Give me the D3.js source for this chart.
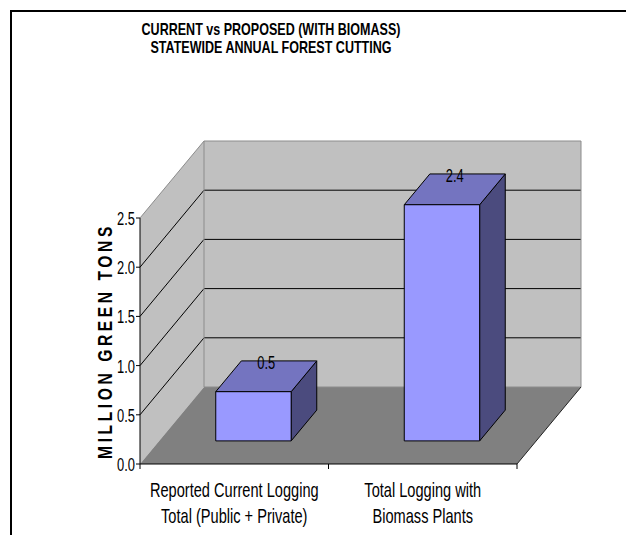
<!DOCTYPE html>
<html>
<head>
<meta charset="utf-8">
<script src="https://cdn.jsdelivr.net/npm/d3@7"></script>
<style>
  html, body { margin: 0; padding: 0; background: #fff; }
  svg { display: block; }
  text { font-family: "Liberation Sans", Arial, sans-serif; fill: #000; }
</style>
</head>
<body>
<svg id="chart" width="626" height="535"></svg>
<script>
// Statewide annual forest cutting, million green tons
const categoryLines = [
  ["Reported Current Logging", "Total (Public + Private)"],
  ["Total Logging with", "Biomass Plants"]
];
const categoryKeys = ["current", "biomass"];
const values = [0.5, 2.4];
const yTicks = [0, 0.5, 1.0, 1.5, 2.0, 2.5];
const titleLines = ["CURRENT vs PROPOSED (WITH BIOMASS)", "STATEWIDE ANNUAL FOREST CUTTING"];
const yTitle = "MILLION GREEN TONS";

const svg = d3.select("#chart");

// plot frame (front plane) and 3-D depth offset
const x0 = 140, x1 = 517, yBase = 464, yTop = 218;
const depth = { dx: 64, dy: -77 };
const barDepth = { from: 0.3, to: 0.7 };

const y = d3.scaleLinear().domain([0, 2.5]).range([yBase, yTop]);
const x = d3.scaleBand().domain(categoryKeys).range([x0, x1]).paddingInner(0).paddingOuter(0);
const barW = x.bandwidth() / 2.5;   // 150% gap width

const colors = {
  wall: "#c0c0c0", floor: "#808080", edge: "#8c8c8c",
  front: "#9999ff", top: "#7474c0", side: "#4b4b7e"
};

// outer chart border
svg.append("rect")
  .attr("x", 11).attr("y", 11).attr("width", 800).attr("height", 800)
  .attr("fill", "none").attr("stroke", "#000").attr("stroke-width", 2);

const pt = (px, py, f) => [px + depth.dx * f, py + depth.dy * f];
const poly = pts => "M" + pts.map(p => p.join(",")).join("L") + "Z";

const g = svg.append("g");

// side wall (left)
g.append("path")
  .attr("d", poly([[x0, y(0)], pt(x0, y(0), 1), pt(x0, y(2.5), 1), [x0, y(2.5)]]))
  .attr("fill", colors.wall).attr("stroke", "none");
// back wall
g.append("path")
  .attr("d", poly([pt(x0, y(0), 1), pt(x1, y(0), 1), pt(x1, y(2.5), 1), pt(x0, y(2.5), 1)]))
  .attr("fill", colors.wall).attr("stroke", "none");
// floor
g.append("path")
  .attr("d", poly([[x0, y(0)], [x1, y(0)], pt(x1, y(0), 1), pt(x0, y(0), 1)]))
  .attr("fill", colors.floor).attr("stroke", "none");

// gridlines on side and back walls
const inner = yTicks.filter(t => t > 0 && t < 2.5);
g.selectAll(".grid-side").data(inner).join("line")
  .attr("x1", x0).attr("y1", d => y(d))
  .attr("x2", d => pt(x0, y(d), 1)[0]).attr("y2", d => pt(x0, y(d), 1)[1])
  .attr("stroke", "#000").attr("stroke-width", 1);
g.selectAll(".grid-back").data(inner).join("line")
  .attr("x1", d => pt(x0, y(d), 1)[0]).attr("y1", d => pt(x0, y(d), 1)[1])
  .attr("x2", d => pt(x1, y(d), 1)[0]).attr("y2", d => pt(x1, y(d), 1)[1])
  .attr("stroke", "#000").attr("stroke-width", 1);

// wall outlines
const wl = [
  [[x0, y(2.5)], pt(x0, y(2.5), 1)],
  [pt(x0, y(2.5), 1), pt(x1, y(2.5), 1)],
  [pt(x1, y(2.5), 1), pt(x1, y(0), 1)],
  [pt(x0, y(2.5), 1), pt(x0, y(0), 1)],
  [pt(x0, y(0), 1), pt(x1, y(0), 1)]
];
g.selectAll(".wall-edge").data(wl).join("line")
  .attr("x1", d => d[0][0]).attr("y1", d => d[0][1])
  .attr("x2", d => d[1][0]).attr("y2", d => d[1][1])
  .attr("stroke", colors.edge).attr("stroke-width", 1);
// floor right edge
g.append("line")
  .attr("x1", x1).attr("y1", y(0))
  .attr("x2", pt(x1, y(0), 1)[0]).attr("y2", pt(x1, y(0), 1)[1])
  .attr("stroke", "#222").attr("stroke-width", 1);

// 3-D bars
const bars = categoryKeys.map((k, i) => {
  const cx = x(k) + x.bandwidth() / 2;
  const f0 = barDepth.from, f1 = barDepth.to;
  const l = cx - barW / 2, r = cx + barW / 2;
  const [fl, fb] = pt(l, y(0), f0);
  const [fr, ft] = pt(r, y(values[i]), f0);
  const [bl, bt] = pt(l, y(values[i]), f1);
  const [br, bb] = pt(r, y(0), f1);
  return { k, v: values[i], fl, fr, fb, ft, bl, bt, br, bb };
});
const bg = svg.append("g").attr("stroke", "#000").attr("stroke-width", 1).attr("stroke-linejoin", "round");
bars.forEach(b => {
  const dxBack = b.br - b.fr;
  bg.append("path")
    .attr("d", poly([[b.fr, b.fb], [b.fr, b.ft], [b.fr + dxBack, b.bt], [b.br, b.bb]]))
    .attr("fill", colors.side);
  bg.append("path")
    .attr("d", poly([[b.fl, b.ft], [b.fr, b.ft], [b.br, b.bt], [b.bl, b.bt]]))
    .attr("fill", colors.top);
  bg.append("path")
    .attr("d", poly([[b.fl, b.fb], [b.fr, b.fb], [b.fr, b.ft], [b.fl, b.ft]]))
    .attr("fill", colors.front);
});

// condensed text helper
function ctext(parent, tx, ty, str, opts) {
  const t = parent.append("text")
    .attr("transform", `translate(${tx},${ty}) ${opts.rotate ? "rotate(" + opts.rotate + ")" : ""} scale(${opts.sx},1)`)
    .attr("text-anchor", opts.anchor || "middle")
    .attr("font-size", opts.size)
    .attr("font-weight", opts.weight || "normal")
    .text(str);
  if (opts.spacing) t.attr("letter-spacing", opts.spacing);
  return t;
}

// value labels
bars.forEach(b => {
  const cx = (b.fl + b.br) / 2;
  ctext(svg, cx, b.bt + 8, d3.format(".1f")(b.v), { size: 19, sx: 0.68 });
});

// value axis
svg.append("line").attr("x1", x0).attr("x2", x0).attr("y1", y(0)).attr("y2", y(2.5))
  .attr("stroke", "#000").attr("stroke-width", 1);
svg.selectAll(".ytick").data(yTicks).join("line")
  .attr("x1", x0 - 4).attr("x2", x0).attr("y1", d => y(d)).attr("y2", d => y(d))
  .attr("stroke", "#000");
yTicks.forEach(t => ctext(svg, x0 - 5, y(t) + 7, d3.format(".1f")(t), { size: 19, sx: 0.68, anchor: "end" }));

// category axis
svg.append("line").attr("x1", x0).attr("x2", x1).attr("y1", yBase).attr("y2", yBase)
  .attr("stroke", "#000").attr("stroke-width", 1);
const catTicks = [x0, ...categoryKeys.slice(1).map(k => x(k)), x1];
svg.selectAll(".xtick").data(catTicks).join("line")
  .attr("x1", d => d).attr("x2", d => d).attr("y1", yBase).attr("y2", yBase + 5)
  .attr("stroke", "#000");
categoryKeys.forEach((k, i) => {
  const cx = x(k) + x.bandwidth() / 2;
  categoryLines[i].forEach((ln, j) => {
    ctext(svg, cx, 497 + j * 26, ln, { size: 20, sx: 0.73 });
  });
});

// axis title
ctext(svg, 112, (y(0) + y(2.5)) / 2, yTitle, { size: 20, sx: 0.78, weight: "bold", rotate: -90, spacing: 4.6 });

// chart title
titleLines.forEach((ln, i) => {
  ctext(svg, 271, 35 + i * 18, ln, { size: 16.5, sx: 0.76, weight: "bold" });
});
</script>
</body>
</html>
